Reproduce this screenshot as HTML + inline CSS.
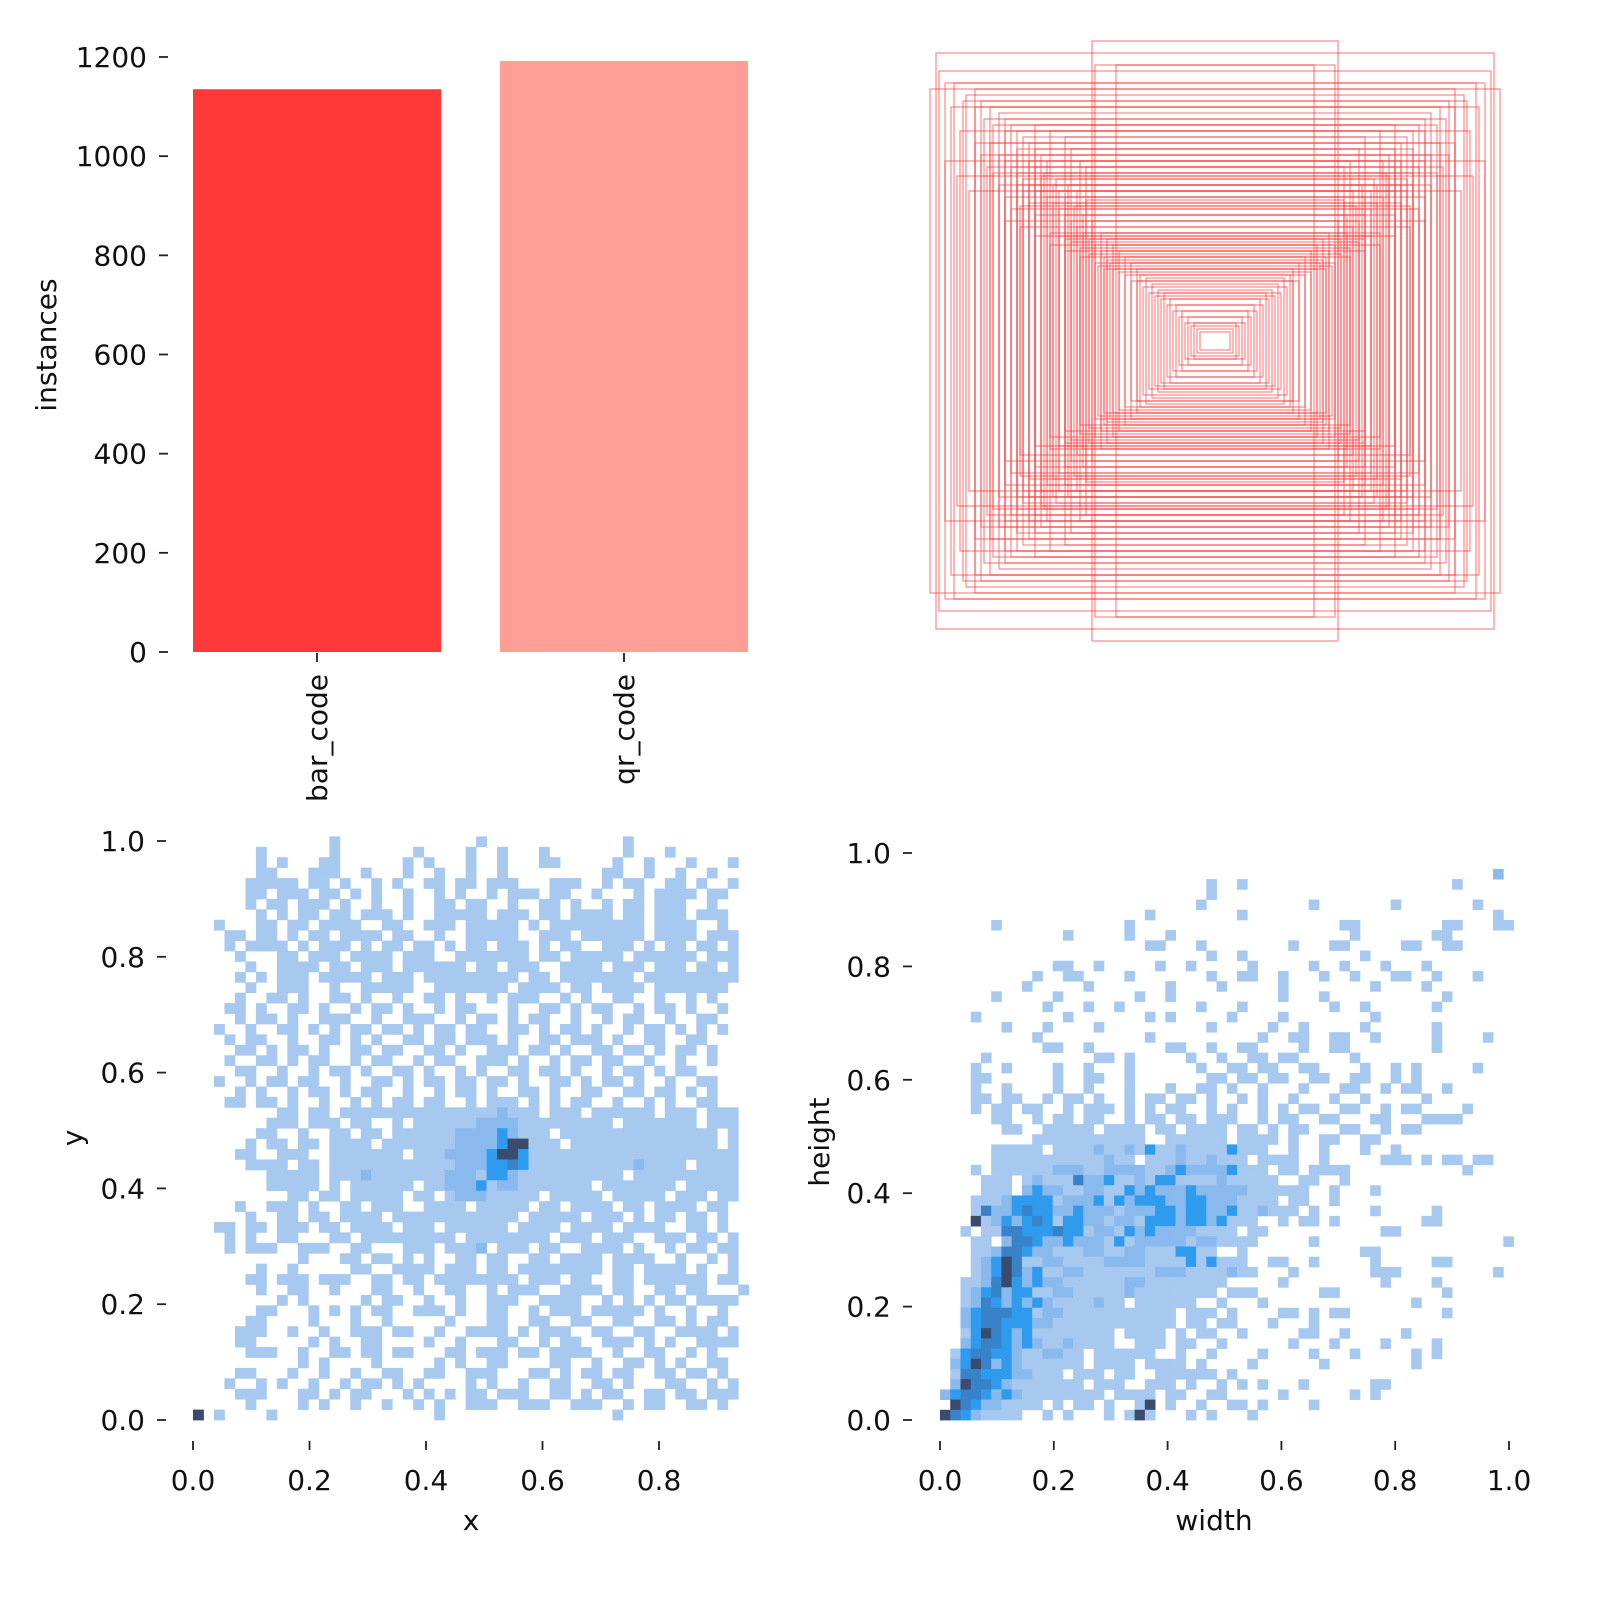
<!DOCTYPE html>
<html><head><meta charset="utf-8"><style>
html,body{margin:0;padding:0;background:#fff;}
svg{display:block;font-family:"DejaVu Sans","Liberation Sans",sans-serif;}
</style></head><body>
<svg id="chart" width="1600" height="1600" viewBox="0 0 1600 1600" xmlns="http://www.w3.org/2000/svg">
<g id="barPanel"></g>
<g id="boxPanel"></g>
<g id="xyPanel"></g>
<g id="whPanel"></g>
</svg>
<script>
const classNames = ["bar_code", "qr_code"];
const classCounts = [1135, 1192];
const barTicks = [0, 200, 400, 600, 800, 1000, 1200];
const histTicksBL = [0.0, 0.2, 0.4, 0.6, 0.8];
const histTicksBLy = [0.0, 0.2, 0.4, 0.6, 0.8, 1.0];
const histTicksBR = [0.0, 0.2, 0.4, 0.6, 0.8, 1.0];
// box sizes (width, height) fractions
const boxW = [0.93,0.92,0.41,0.4,0.33,0.9,0.87,0.83,0.8,0.78,0.75,0.72,0.7,0.68,0.66,0.64,0.62,0.6,0.58,0.56,0.75,0.72,0.7,0.68,0.66,0.64,0.62,0.6,0.58,0.56,0.54,0.52,0.5,0.48,0.46,0.44,0.42,0.4,0.38,0.37,0.36,0.35,0.34,0.32,0.3,0.28,0.26,0.24,0.22,0.2,0.18,0.16,0.14,0.12,0.1,0.08,0.06,0.05,0.85,0.8,0.78,0.76,0.74,0.9,0.86,0.82,0.6,0.55,0.5,0.48,0.45,0.43,0.65,0.7,0.72,0.68,0.55,0.52,0.5,0.48,0.45,0.42,0.39,0.6,0.62,0.64,0.66,0.58,0.54,0.52,0.5,0.47,0.44,0.41,0.38,0.36,0.34,0.32,0.3,0.28,0.26,0.25,0.23,0.21,0.19,0.17,0.15,0.13,0.11,0.09,0.07,0.66,0.7,0.74,0.77,0.8,0.84,0.88,0.95,0.4,0.37,0.45,0.5,0.55,0.6,0.65,0.7,0.62,0.6,0.57,0.53,0.49,0.46,0.43];
const boxH = [0.96,0.9,1.0,0.92,0.92,0.86,0.86,0.82,0.78,0.8,0.78,0.76,0.74,0.72,0.7,0.68,0.66,0.64,0.62,0.6,0.66,0.62,0.6,0.58,0.56,0.54,0.52,0.5,0.5,0.48,0.46,0.44,0.42,0.4,0.38,0.36,0.34,0.32,0.3,0.28,0.27,0.26,0.24,0.23,0.22,0.2,0.2,0.18,0.16,0.15,0.14,0.12,0.1,0.08,0.06,0.05,0.04,0.03,0.7,0.66,0.62,0.58,0.56,0.6,0.55,0.5,0.72,0.7,0.68,0.64,0.6,0.58,0.45,0.48,0.52,0.44,0.36,0.35,0.34,0.33,0.31,0.29,0.25,0.42,0.46,0.5,0.52,0.55,0.52,0.5,0.48,0.45,0.42,0.4,0.36,0.34,0.32,0.3,0.28,0.26,0.24,0.22,0.21,0.19,0.17,0.16,0.14,0.12,0.1,0.08,0.06,0.64,0.7,0.72,0.74,0.84,0.8,0.78,0.84,0.26,0.24,0.28,0.3,0.32,0.35,0.38,0.4,0.6,0.58,0.56,0.54,0.52,0.5,0.47];
// x-y histogram rows (top = high y), levels: . empty, a light, b medium, c bright, d mid-dark, e dark
const xyRows = [
".............a.............a.............a..........",
"......a......a.......a....a..a...a.......a...a.......",
"......a.a...aa......a.a...a..a...aa.....a..a...a...a.",
"......aa...aaa..a...a..a..a..a.........aa..a..a..a...",
".....aaaaa.aa.a..a.a..aa.aa.aaa...aaa..a.aa..aa.a..a.",
".....aa.aaa.aa.a.a..a..a.a..a.aaa.aa..a...a.aaaa.aa..",
".....a.aa.aaa.a..a..a..aa.aa..a..aa.a..a.aa.aaa..a...",
"......a.a.aa.aa.aaa.a..aaaaa.aaa.aa.aaaa.aa.aaa.aaa..",
"..a...aa.aa.aaaa..aa..aaa.aaaaa.a.aaaaaaaaa.aaaa..a..",
"...aa.aa.a.aa.aaaa.aa..a..aaaaa..aaa.aaaaaa.aaaa.aaa.",
"...a.aaaa.a.aaa.a.aa.aa.a.aa.aaa.a.aa..aaa.a.aa.aa.a.",
"....a...aa.aaa.aaaa.aaa..aaaaaaa.aa.aaaaa.aaaaaa.aaa.",
".....a..aaaa.aa.aaa.aaaaaa.aa.aaa..aaaa.aaa.aaa.aa.a.",
"....a.a.aaa.aaaaa.aaa.aaaaaaaaa.aa.aaaaaaa.aaaaaaaaa.",
".....a..aaa..a..aaaaa..aaaaaaa.aaaa.aa.aaaa.aaaaaaa..",
"....a..aa.a..aa.a..a..aa.a..a.aaa..a.a..aa..a..a.a..",
"...aa.a..aa.a..a.aa.a..a.aa...a..aa.a.aa..a.aa.a..a.",
"....a.aa.a..aaa..a..aaa..a.aa.a.aa..a..a.aa..a..aa..",
"..a..a..aa.a.a.aa.aa.a.aa.aa..aa.a.aa.a..a.aa.a.a.a.",
"...a.aa..a..aa.a.a..aa.aa.aaa.a..aa.aaa.a..aa..aa...",
"....aa.a.aa.a..aa.aa..aa.a..aaa.aa.a..aa.aa.a.aa.a..",
"...a..aa.a.aa..a.aa..a.aa..aaa.a..a.aa.aa..a..a..a..",
"....aa..a..a.aa.a..aa.a..a.a..aa.aa.a..a.aa.a.aa....",
"..a..a.aa.aa..a..aa.a.aa.aa.aa.a..aa.a.aa.a..a..aa..",
"....a.a..a.aa.a.aa..a..a.aa.a..aa.a..aa..aa.aa.a.a..",
"...aa.aa.a..a..a.a.aa.aa..a.aaa.a.a.aa..a..a.a..aa..",
"........aa.aa.aaaaaaaaaaaaaaabaaa.aaa.aaaaaa.aaa.aaa",
".......aaa.aaa.aa..a.aaaaaabbbbaaaaaaaaa.aaaaaaa.aaa",
"......aa..a..aa.aa.aaaaaabbbbcbaaa.aaaaaaaaaaaaaaa.a",
".....a.aa.aa.aaaa.aaaaaaabbbbceeaaa.aaaaaaaaaaaaaa.a",
"....aa..aaa..aaaaaaa.aaabbbbceecaaaaaaaaaaaaaaaaaaaa",
".....aaaa.aa.aaaaaaaaaaaabbbccdcaaaaaaaaaabaaaa.aaaa",
".......aaaaa.aaabaaaaaaabbbaccbaaaaaaaaaa.aaaaaaaaaa",
".......aaaaa.a.aaaaaa.aabbbcabbaaaaaaa.aaaaaaa.aaaaa",
".........aa.aa.aaaaa.aa.abbbaaaaa.aaaaa.aaaaa.aaa.aa",
"....a..aaa.a..aa.aaa..aaaa.aaaaa.aa.aaaa.aa.aaaa.aa..",
".....a..aa.aa.aaaa.aaaaaaaaaaaa.aaaaa.aaa.a.aa.aa.a..",
"..aa.aa.aaa.aa.aaaa.aaa.aaaaaa.aaaa.aaaa.aaaa..aa.a..",
"...a.a..aa...aa.aaaaaaaaa.aaaaaaaa.aaa.aaa..aaa.aa.a.",
"...a.aaa..aaa..aa...aaa.aaab.aaa.aa..aaaa.a..a.aa.aa.",
"..........a...aa.aa.a.a..aa.aa..aa.aaaa.aaaa..a..a.a.",
"......a..a.....aa..aaaa.aaa.aa.aaaaaaaa.aa.aaaa.a..a.",
".....aa.aaa.aaa..aa.aa.aaaaaaaa.aaa.aa..aa.aaaaaa.aa.",
"......a..aa..a...aa..a..aa..a.aaa..aaaa.aa..aa.aa...a",
"........a.a.....a.aa..a..a..aaa..aaaa..a.a.a.aa.aaaa.",
"......aa...a.a.a.aa..aaa.a..aa..a.aaa.aaaaa.a..a..a..",
".....aa....a...a..a.....a...aa..aa..aa..aa..aa.a.aa..",
"....aaa..a..a..aaa.aa..a..aaaa.a.aaa..aa..aa..aaaa.a.",
"....aa.....a.a..aa....a..a...aa..a.aa..aaa.a.a..aaaa.",
".....aaa..a..aa.aa.aa...aa.aaa.aa.aaaa..a..aa..a.a...",
"..........a.a....a.....a.a..aa....aa..a..aa.a.a..aa..",
"....aa...a..a..a..aa..aa..aaa...aa.a.aa.aa..aa.aa.a..",
"...a..a.a..a..a.aa.a.a....a.a..a..aa..aa.a...aa..a.a.",
"....aaa...aa.a.aa...a.a.a.aa.aaa..aa.a.aa..aa.aa.aaa.",
".....a....a.a..a..a..a.a..aaa..aaa..aaa..a.aa..aa.a..",
"e.a....a...............a................a............"
];
// width-height histogram rows (top = height ~1.0)
const whRows = [
"......................................................b.",
"..........................a..a....................a.....",
"..........................a.............................",
".........................a..........a.......a.......a...",
"....................a........a........................a.",
".....a............a....................aa........aa...aa",
"............a.....a...a.................a.......aa......",
"....................aa...a........a...aa.....aa..aa.....",
"..........................a..a...........a..............",
"...........aa..a.....a..a.....a.....a..a...a...a........",
".........a..aa....a.......a..aa..a...a..a...aa..a...a...",
"........a.....a.......a....a.....a........a....a.......",
".....a.....a.......a..a..........a...a...........a.....",
"..........a...a..a.......a...a........a..a......a......",
"...a........a.......a.a.....a....a........a............",
"......a...a....a..........a.....a..a.....a......a......",
".........a..........a..........a..aa..aa..a.....a....a..",
"..........aa..a.......aa..a..aa....a..aa........a.......",
"....a..........aa.a.....a..a..aa.aa.....a...............",
"...a..a....a..a...a......a..aa.aa..aa....a..a.a.....a...",
"...aa......a..aa..a.......aa.aa.aa..aa..aa..a.a.........",
"...a..a....a..a...a...a..aa.a..a...a...aa..a.aa..a......",
"...aa.aa..a.aa.a..a.aa.aa.a..a.a..a...a..a.....a........",
"...a.aa.aa..a.aaa.a.a.aa..a.a..a.a.aa..aa..a.aa....a....",
".....aa..a.aa.aa..a.aa.aa.aaa..a.aa..aa...aa...aaaa.....",
"......aa..aaaaa.aaaa.aa.aaaa.aa.a.aa...aa..a.aa.........",
".........aaaaaaaaaaa..aaaaaa.aaaa.a..aa..aa.............",
".....aaaaa.aaaabaabacaabaaaacaaa..a..a...a..a...........",
".....aaaaaaaaaaabaa.aaabaabaaa.aaaa..a.....aaa.a.aa.aa..",
"...a.aaaaaabbbaabbbbaabcbbbbcaaa.aa.aaaa...........a....",
"....aaa.abaaadbbcaabaccaaaabaaaaa..aa..a................",
"....aaa.bcbbaabbaacbcbbbcbbbbbaaaaaa..a...a.............",
"...aaabccccabbbcacbcccbbccbbbaaaa.aa..a.................",
"...adbbcdccbbcbbbabbbccbccbbcaabaaa.a.....a.....a.......",
"...eabcbcdcaccbbabbacccbccbcaaa..a.aa.a........aa.......",
"..a.aaddcccdccabbacbcbbbbaaaa.aa...........aa...........",
"...aa.bddcbbcbbbacabbbbbabbaaaa.....a..................a",
"...aabddcbbaaabbaabbaaaccaa..a...........aa.............",
"...abcedaabbaaaabbbbaaaacacaaa..aa..a.....a.....aa......",
"...abcedbcaabbaaaaaaabbbaaaabaa...a.......aaa.........a.",
"..aabdecbcbbaaaaaabbaaaaaaaa.....a.........a....a.......",
"..abcdbccaabbaaaaabaaaaaaaa.aaa......aa..........a......",
"..abdcbcbcbaaaabaa.aaaaaa..a...a..............a.........",
"..bcdddccabbaaaaaaaaaaa.aaa.a....aa.a.aa.........a......",
"..bcddcccbbaaaaaaaaaaaa.aa.aa...a...a...................",
"..acedcbcaaaaaaaa.aaaa.a.aa..a.....aa..a.....a..........",
"..bcddcbcbaabaaaa..aaa.aa..a......a...a....a....a.......",
".acddccbaabbaa.aaaaaa..a..a....a....a...a.....a.a.......",
".bcedbcbaaaaaa.aaaa.aaaa.a....a......a........a.........",
".addcccbbaaa.aaa.aa..aaaaaa.a..........................",
".beddcbaaaaaaa.aaa..aaa.a..a.a.a...a......aa..........",
"bcddcbcbaaaaaaaa.aaaa.aa..aa.....a......a.a.............",
".edcbbaaaa.a.aa.a..ae.a..a..aa.a....a...................",
"edcbaaaa..a.a...a.aea...a.a...a........................."
];
const levelColor = {a:"#a8c9ef", b:"#8ab9ee", c:"#2f9bee", d:"#3782c8", e:"#3a4b6b"};

const NS = "http://www.w3.org/2000/svg";
function mk(parent, tag, attrs, text){
  const el = document.createElementNS(NS, tag);
  for (const k in attrs) el.setAttribute(k, attrs[k]);
  if (text !== undefined) el.textContent = text;
  parent.appendChild(el);
  return el;
}
const FS = 28;

// ---------- Bar chart ----------
const bp = document.getElementById('barPanel');
const barY0 = 652, barY1 = 57, barMax = 1200;
const barYScale = v => barY0 - (v / barMax) * (barY0 - barY1);
const barXLeft = 193, barBand = 307, barW = 248;
const barColors = ["#ff3838", "#ff9d97"];
barTicks.forEach(t => {
  const y = barYScale(t);
  const tk = mk(bp, 'line', {x1:159, x2:168, y1:y, y2:y, stroke:'#222', 'stroke-width':1.8});
  
  
  const lb = mk(bp, 'text', {x:147, y:y+10, 'text-anchor':'end', 'font-size':FS, fill:'#111'}, String(t));
  
  
});
classCounts.forEach((c, i) => {
  const x = barXLeft + i * barBand;
  const r = mk(bp, 'rect', {x:x, y:barYScale(c), width:barW, height:barY0 - barYScale(c), fill:barColors[i]});
  
  
  const cx = x + barW / 2;
  const tk = mk(bp, 'line', {x1:cx, x2:cx, y1:653, y2:662, stroke:'#222', 'stroke-width':1.8});
  
  
  const lb = mk(bp, 'text', {x:cx + 10, y:674, 'text-anchor':'end', 'font-size':FS, fill:'#111', transform:'rotate(-90 ' + (cx + 10) + ' 674)'}, classNames[i]);
  
  
});
{
  const t = mk(bp, 'text', {x:56, y:345, 'text-anchor':'middle', 'font-size':FS, fill:'#111', transform:'rotate(-90 56 345)'}, 'instances');
  
  
}

// ---------- Box overlay ----------
const xp = document.getElementById('boxPanel');
const bcx = 1215, bcy = 341, bS = 600;
boxW.forEach((w, i) => {
  const h = boxH[i];
  const r = mk(xp, 'rect', {x:bcx - w*bS/2, y:bcy - h*bS/2, width:w*bS, height:h*bS, fill:'none', stroke:'#ff3838', 'stroke-opacity':0.6, 'stroke-width':1.2});
  
  
});

// ---------- Histogram helper ----------
function heat(panel, rows, x0, xPerUnit, y0, yPerUnit, bin){
  rows.forEach((row, ri) => {
    const nrows = rows.length;
    const yLow = (nrows - 1 - ri) * bin;
    for (let ci = 0; ci < row.length; ci++){
      const ch = row[ci];
      if (ch === '.') continue;
      const xLow = ci * bin;
      const r = mk(panel, 'rect', {x:x0 + xLow*xPerUnit, y:y0 - (yLow+bin)*yPerUnit, width:bin*xPerUnit + 0.4, height:bin*yPerUnit + 0.4, fill:levelColor[ch]});
      
      
    }
  });
}
function axes(panel, x0, xPerUnit, y0, yPerUnit, xt, yt, tickX, tickY, xTitle, yTitle, xTitleX, yTitleX, yTitleY){
  yt.forEach(t => {
    const y = y0 - t*yPerUnit;
    const tk = mk(panel, 'line', {x1:tickX, x2:tickX+9, y1:y, y2:y, stroke:'#222', 'stroke-width':1.8});
    
    
    const lb = mk(panel, 'text', {x:tickX-12, y:y+10, 'text-anchor':'end', 'font-size':FS, fill:'#111'}, t.toFixed(1));
    
    
  });
  xt.forEach(t => {
    const x = x0 + t*xPerUnit;
    const tk = mk(panel, 'line', {x1:x, x2:x, y1:tickY, y2:tickY+9, stroke:'#222', 'stroke-width':1.8});
    
    
    const lb = mk(panel, 'text', {x:x, y:tickY+49, 'text-anchor':'middle', 'font-size':FS, fill:'#111'}, t.toFixed(1));
    
    
  });
  const xtitle = mk(panel, 'text', {x:xTitleX, y:1530, 'text-anchor':'middle', 'font-size':FS, fill:'#111'}, xTitle);
  
  
  const ytitle = mk(panel, 'text', {x:yTitleX, y:yTitleY, 'text-anchor':'middle', 'font-size':FS, fill:'#111', transform:'rotate(-90 ' + yTitleX + ' ' + yTitleY + ')'}, yTitle);
  
  
}
const p3 = document.getElementById('xyPanel');
heat(p3, xyRows, 193, 582.5, 1420, 579, 0.018);
axes(p3, 193, 582.5, 1420, 579, histTicksBL, histTicksBLy, 157, 1441, 'x', 'y', 471, 82, 1138);
const p4 = document.getElementById('whPanel');
heat(p4, whRows, 940, 569, 1420, 567, 0.018);
axes(p4, 940, 569, 1420, 567, histTicksBR, histTicksBR, 903, 1441, 'width', 'height', 1214, 829, 1142);
</script>
</body></html>
